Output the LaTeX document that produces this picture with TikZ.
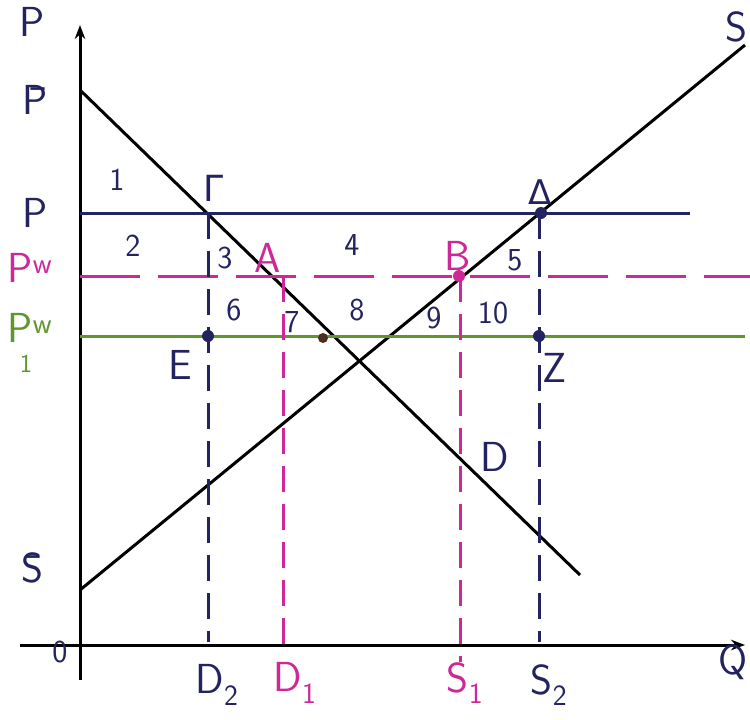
\documentclass[tikz,border=0pt]{standalone}
\usepackage{amsmath}
\usepackage{fontspec}
\usepackage{xcolor}
\usepackage{tikz}
\usetikzlibrary{arrows.meta}
\newfontfamily\grkfont{DejaVu Sans}
\definecolor{hNavy}{RGB}{35,35,95}
\definecolor{hPink}{RGB}{205,40,150}
\definecolor{hGreen}{RGB}{95,150,45}
\definecolor{hBrown}{RGB}{75,45,35}

\begin{document}
\begin{tikzpicture}[x=1pt, y=-1pt,
  lbl/.style={font=\fontsize{42}{42}\selectfont\sffamily, text=hNavy, inner sep=0pt},
  num/.style={font=\fontsize{32}{32}\selectfont\sffamily, text=hNavy, inner sep=0pt},
  curve/.style={line width=3pt, black},
  guide/.style={line width=3pt, dash pattern=on 26pt off 12pt},
  dot/.style={circle, fill=#1, inner sep=0pt, minimum size=12pt}]
  \useasboundingbox (0,0) rectangle (750,720);

  % Axes
  \coordinate (O) at (80,645);
  \coordinate (ytop) at (80,25);
  \coordinate (ybot) at (80,680);
  \coordinate (xleft) at (20,645);
  \coordinate (xright) at (745,645);
  \draw[line width=3pt, -{Stealth[length=14pt]}] (ybot) -- (ytop);
  \draw[line width=3pt, -{Stealth[length=14pt]}] (xleft) -- (xright);

  % Demand and supply
  \coordinate (Pbar) at (80,90);
  \coordinate (Dend) at (580,575);
  \coordinate (Sbar) at (80,590);
  \coordinate (Send) at (745,45);
  \draw[curve] (Pbar) -- (Dend);
  \draw[curve] (Sbar) -- (Send);

  % Price lines
  \coordinate (Pl) at (80,213);   \coordinate (Pr) at (690,213);
  \coordinate (Pwl) at (80,276);  \coordinate (Pwr) at (750,276);
  \coordinate (Pw1l) at (80,336); \coordinate (Pw1r) at (745,336);
  \draw[line width=3pt, hNavy] (Pl) -- (Pr);
  \draw[line width=3pt, hPink, dash pattern=on 60pt off 18pt] (Pwl) -- (Pwr);
  \draw[line width=3pt, hGreen] (Pw1l) -- (Pw1r);

  % Quantity guides
  \coordinate (Gam) at (208,213); \coordinate (D2) at (208,642);
  \coordinate (Del) at (539,213); \coordinate (S2) at (539,642);
  \coordinate (A)   at (283,276); \coordinate (D1) at (283,645);
  \coordinate (B)   at (460,276); \coordinate (S1) at (460,662);
  \draw[guide, hNavy] (Gam) -- (D2);
  \draw[guide, hNavy] (Del) -- (S2);
  \draw[guide, hPink] (A) -- (D1);
  \draw[guide, hPink] (B) -- (S1);

  % Points
  \node[dot=hNavy] (dDel) at (541,213) {};
  \node[dot=hPink] (dB) at (459,276) {};
  \node[dot=hNavy] (dE) at (208,336) {};
  \node[dot=hNavy] (dZ) at (539,336) {};
  \node[dot=hBrown, minimum size=10pt] (dX) at (323,338) {};

  % Axis labels
  \node[lbl] (lP) at (32,22) {P};
  \node[lbl] (lPbar) at (35,100) {\=P};
  \node[lbl] (lPp) at (35,213) {P};
  \node[lbl, text=hPink] (lPw) at (30,268) {P\textsuperscript{w}};
  \node[lbl, text=hGreen] (lPw1) at (30,328) {P\textsuperscript{w}};
  \node[num, text=hGreen, font=\fontsize{26}{26}\selectfont\sffamily] (lPw1s) at (26,364) {1};
  \node[lbl] (lSbar) at (32,568) {\=S};
  \node[num] (lO) at (60,652) {0};
  \node[lbl] (lD2) at (217,685) {D\textsubscript{2}};
  \node[lbl, text=hPink] (lD1) at (295,683) {D\textsubscript{1}};
  \node[lbl, text=hPink] (lS1) at (465,683) {S\textsubscript{1}};
  \node[lbl] (lS2) at (549,685) {S\textsubscript{2}};
  \node[lbl] (lQ) at (733,662) {Q};
  \node[lbl] (lS) at (736,27) {S};

  % Point labels
  \node[lbl, font=\fontsize{36}{36}\selectfont\grkfont] (lGam) at (214,188) {Γ};
  \node[lbl, font=\fontsize{34}{34}\selectfont\grkfont] (lDel) at (540,192) {Δ};
  \node[lbl, text=hPink] (lA) at (268,258) {A};
  \node[lbl, text=hPink] (lB) at (458,256) {B};
  \node[lbl] (lE) at (180,365) {E};
  \node[lbl] (lZ) at (555,368) {Z};
  \node[lbl] (lD) at (495,457) {D};

  % Areas
  \foreach \n/\x/\y in {1/117/180, 2/133/246, 3/225/258, 4/352/245, 5/515/260,
                        6/234/310, 7/292/322, 8/357/310, 9/434/318, 10/493/313}
    \node[num] (a\n) at (\x,\y) {\n};
\end{tikzpicture}
\end{document}
